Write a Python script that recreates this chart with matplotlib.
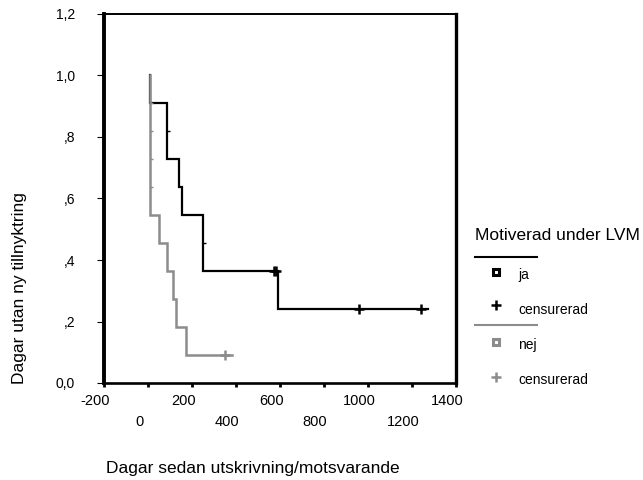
import matplotlib
matplotlib.use('Agg')
import matplotlib.pyplot as plt
from matplotlib.lines import Line2D

plt.rcParams['font.family'] = ['Liberation Sans', 'DejaVu Sans']

# === Kaplan-Meier values ===
ja_t = [8, 8, 84, 141, 155, 248, 589, 1272]
ja_s = [1.0, 0.909, 0.727, 0.636, 0.545, 0.364, 0.242, 0.242]
ja_cens_t = [572, 581, 959, 1242]
ja_cens_s = [0.364, 0.364, 0.242, 0.242]
ja_tie_t = [84, 248]
ja_tie_s = [0.818, 0.455]

nej_t = [8, 8, 50, 87, 111, 126, 172, 382]
nej_s = [1.0, 0.545, 0.455, 0.364, 0.273, 0.182, 0.091, 0.091]
nej_cens_t = [349]
nej_cens_s = [0.091]
nej_tie_t = [8, 8, 8, 8]
nej_tie_s = [0.909, 0.818, 0.727, 0.636]

x_row1 = [-200, 200, 600, 1000, 1400]
x_row2 = [0, 400, 800, 1200]
y_ticks = [0.0, 0.2, 0.4, 0.6, 0.8, 1.0, 1.2]
y_labels = ['0,0', ',2', ',4', ',6', ',8', '1,0', '1,2']

legend_title = 'Motiverad under LVM'
legend_labels = ['ja', 'censurerad', 'nej', 'censurerad']

black = '#000000'
gray = '#8c8c8c'

fig = plt.figure(figsize=(6.43, 4.8), dpi=100)
ax = fig.add_axes([104.3 / 643, 97 / 480, (456 - 104.3) / 643, (383 - 14) / 480])

# === curves ===
ax.plot(ja_t, ja_s, drawstyle='steps-post', color=black, lw=1.6, solid_joinstyle='miter')
ax.plot(ja_tie_t, ja_tie_s, ls='none', marker=1, ms=2.5, mew=1.0, color=black)
ax.plot(ja_cens_t, ja_cens_s, ls='none', marker='+', ms=7, mew=1.8, color=black)

ax.plot(nej_t, nej_s, drawstyle='steps-post', color=gray, lw=1.8, solid_joinstyle='miter')
ax.plot(nej_tie_t, nej_tie_s, ls='none', marker=1, ms=2.5, mew=1.0, color=gray)
ax.plot(nej_cens_t, nej_cens_s, ls='none', marker='+', ms=7, mew=1.8, color=gray)

ax.set_xlim(-200, 1400)
ax.set_ylim(0, 1.2)

# === axes styling ===
ax.spines['left'].set_linewidth(2.8)
ax.spines['bottom'].set_linewidth(1.9)
ax.spines['right'].set_linewidth(2.4)
ax.spines['top'].set_linewidth(1.4)

ax.set_yticks(y_ticks)
ax.set_yticklabels(y_labels, fontsize=10)
ax.tick_params(axis='y', length=5, width=0.8, pad=16, direction='out')

ax.set_xticks(x_row1 + x_row2)
ax.set_xticklabels([])
ax.tick_params(axis='x', length=3, width=2, direction='out')

# two rows of x labels, shifted left like the original
for v in x_row1:
    ax.annotate(str(v), xy=(v, 0), xycoords=('data', 'axes fraction'),
                xytext=(-6.5, -12.7), textcoords='offset points',
                ha='center', va='center', fontsize=10.5)
for v in x_row2:
    ax.annotate(str(v), xy=(v, 0), xycoords=('data', 'axes fraction'),
                xytext=(-6.5, -27.9), textcoords='offset points',
                ha='center', va='center', fontsize=10.5)

fig.text(252.5 / 643, 1 - 468 / 480, 'Dagar sedan utskrivning/motsvarande',
         ha='center', va='center', fontsize=12.5)
fig.text(20 / 643, 1 - 288 / 480, 'Dagar utan ny tillnyktring',
         ha='center', va='center', rotation=90, fontsize=12.5)

# === legend drawn in pixel space ===
lg = fig.add_axes([0, 0, 1, 1], facecolor='none')
lg.set_xlim(0, 643)
lg.set_ylim(480, 0)
lg.axis('off')

lg.text(475, 235, legend_title, ha='left', va='center', fontsize=12.5)
lg.add_line(Line2D([475, 537], [257, 257], color=black, lw=1.5))
lg.plot([496], [272], marker='s', ms=5, mfc='white', mec=black, mew=2.2)
lg.text(518, 275, legend_labels[0], ha='left', va='center', fontsize=10)
lg.plot([496], [305], marker='+', ms=7, mew=1.8, color=black)
lg.text(518, 310, legend_labels[1], ha='left', va='center', fontsize=10)
lg.add_line(Line2D([475, 537], [325, 325], color=gray, lw=1.5))
lg.plot([496], [342], marker='s', ms=5, mfc='white', mec=gray, mew=2.2)
lg.text(518, 345, legend_labels[2], ha='left', va='center', fontsize=10)
lg.plot([496], [377], marker='+', ms=7, mew=1.8, color=gray)
lg.text(518, 380, legend_labels[3], ha='left', va='center', fontsize=10)

fig.savefig('out.png', dpi=100)
